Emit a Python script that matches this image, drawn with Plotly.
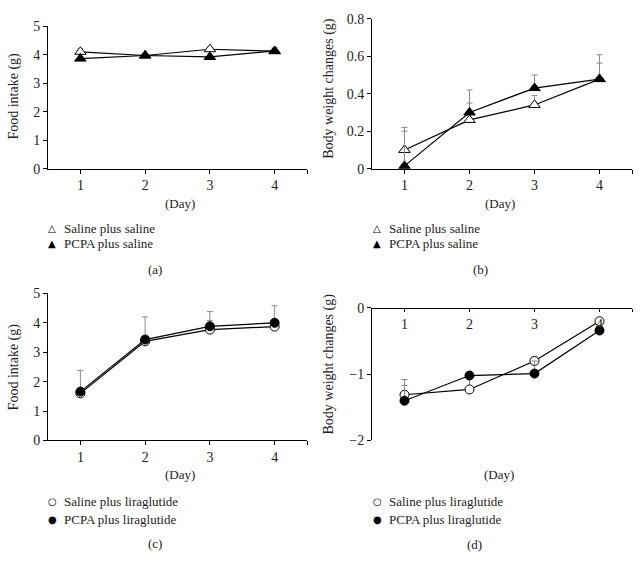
import plotly.graph_objects as go

days = [1, 2, 3, 4]

# Panel (a): food intake (g)
a_saline = [4.11, 3.98, 4.20, 4.13]
a_saline_err = [0.10, 0.06, 0.07, 0.12]
a_pcpa = [3.87, 3.98, 3.93, 4.14]
a_pcpa_err = [0.05, 0.05, 0.06, 0.10]

# Panel (b): body weight changes (g)
b_saline = [0.10, 0.26, 0.34, 0.478]
b_saline_err = [0.12, 0.09, 0.05, 0.085]
b_pcpa = [0.015, 0.30, 0.43, 0.478]
b_pcpa_err = [0.185, 0.12, 0.07, 0.13]

# Panel (c): food intake (g)
c_saline = [1.60, 3.37, 3.77, 3.87]
c_saline_err = [0.10, 0.15, 0.31, 0.20]
c_pcpa = [1.66, 3.43, 3.88, 4.00]
c_pcpa_err = [0.72, 0.77, 0.50, 0.58]

# Panel (d): body weight changes (g)
d_saline = [-1.31, -1.23, -0.80, -0.20]
d_saline_err = [0.23, 0.20, 0.06, 0.05]
d_pcpa = [-1.40, -1.02, -0.99, -0.34]
d_pcpa_err = [0.23, 0.05, 0.19, 0.08]

legend_top = ["Saline plus saline", "PCPA plus saline"]
legend_bottom = ["Saline plus liraglutide", "PCPA plus liraglutide"]
panel_letters = ["(a)", "(b)", "(c)", "(d)"]
y_titles = ["Food intake (g)", "Body weight changes (g)", "Food intake (g)", "Body weight changes (g)"]
x_title = "(Day)"

W, H = 640, 578
FONT = "Liberation Serif"
ERRC = "#8a8a8a"


def px(x):
    return x / W


def py(y):
    return 1 - y / H


fig = go.Figure()


def add_series(xa, ya, vals, errs, symbol, filled, name):
    fig.add_trace(go.Scatter(
        x=days, y=vals, name=name, mode="lines+markers",
        xaxis=xa, yaxis=ya, showlegend=False, hoverinfo="skip",
        line=dict(color="black", width=1.2),
        marker=dict(symbol=symbol, size=9 if symbol == "circle" else 10,
                    color="black" if filled else "white",
                    line=dict(color="black", width=1)),
        error_y=dict(type="data", symmetric=False, array=errs,
                     arrayminus=[0] * len(errs), color=ERRC,
                     thickness=1, width=3),
    ))


add_series("x", "y", a_saline, a_saline_err, "triangle-up", False, legend_top[0])
add_series("x", "y", a_pcpa, a_pcpa_err, "triangle-up", True, legend_top[1])
add_series("x2", "y2", b_saline, b_saline_err, "triangle-up", False, legend_top[0])
add_series("x2", "y2", b_pcpa, b_pcpa_err, "triangle-up", True, legend_top[1])
add_series("x3", "y3", c_saline, c_saline_err, "circle", False, legend_bottom[0])
add_series("x3", "y3", c_pcpa, c_pcpa_err, "circle", True, legend_bottom[1])
add_series("x4", "y4", d_saline, d_saline_err, "circle", False, legend_bottom[0])
add_series("x4", "y4", d_pcpa, d_pcpa_err, "circle", True, legend_bottom[1])

tickfont = dict(family=FONT, size=14, color="#222")

xcommon = dict(range=[0.5, 4.5], tickvals=[1, 2, 3, 4, 4.5],
               ticktext=["1", "2", "3", "4", ""], showline=True,
               linecolor="black", linewidth=1, ticks="outside", ticklen=4,
               tickcolor="black", showgrid=False, zeroline=False,
               tickfont=tickfont, fixedrange=True)
ycommon = dict(showline=True, linecolor="black", linewidth=1, ticks="outside",
               ticklen=4, tickcolor="black", showgrid=False, zeroline=False,
               tickfont=tickfont, fixedrange=True)

dom_left = [px(48), px(307)]
dom_right = [px(372), px(632)]

fig.update_layout(
    width=W, height=H,
    margin=dict(l=0, r=0, t=0, b=0),
    paper_bgcolor="white", plot_bgcolor="white",
    showlegend=False, hovermode=False,
    xaxis=dict(domain=dom_left, anchor="y", **xcommon),
    yaxis=dict(domain=[py(166), py(20)], anchor="x", range=[0, 5],
               tickvals=[0, 1, 2, 3, 4, 5], **ycommon),
    xaxis2=dict(domain=dom_right, anchor="y2", **xcommon),
    yaxis2=dict(domain=[py(166), py(12)], anchor="x2", range=[0, 0.8],
                tickvals=[0, 0.2, 0.4, 0.6, 0.8],
                ticktext=["0", "0.2", "0.4", "0.6", "0.8"], **ycommon),
    xaxis3=dict(domain=dom_left, anchor="y3", **xcommon),
    yaxis3=dict(domain=[py(445), py(294)], anchor="x3", range=[0, 5],
                tickvals=[0, 1, 2, 3, 4, 5], **ycommon),
    xaxis4=dict(domain=dom_right, anchor="free", position=py(309), side="bottom",
                **{**xcommon, "ticklen": 3}),
    yaxis4=dict(domain=[py(445), py(309)], anchor="x4", range=[-2, 0],
                tickvals=[-2, -1, 0], **ycommon),
)

ann = []
textfont = dict(family=FONT, size=13, color="#222")
# y titles
for (x, y), t in zip([(14, 92), (329, 84), (14, 370), (329, 367)], y_titles):
    ann.append(dict(x=px(x), y=py(y), xref="paper", yref="paper", text=t,
                    textangle=-90, showarrow=False, font=dict(family=FONT, size=14, color="#222"),
                    xanchor="center", yanchor="middle"))
# x titles
for (x, y) in [(180, 202), (500, 202), (180, 480), (499, 480)]:
    ann.append(dict(x=px(x), y=py(y), xref="paper", yref="paper", text=x_title,
                    showarrow=False, font=textfont, xanchor="center", yanchor="middle"))
# panel letters
for (x, y), t in zip([(155, 270), (480, 270), (155, 551), (474, 552)], panel_letters):
    ann.append(dict(x=px(x), y=py(y), xref="paper", yref="paper", text=t,
                    showarrow=False, font=textfont, xanchor="center", yanchor="middle"))
# legends
symfont = dict(family="DejaVu Sans", size=10, color="black")
for lx, rows, labels, syms in [
    (52, (227, 243), legend_top, ["\u25b3", "\u25b2"]),
    (377, (227, 243), legend_top, ["\u25b3", "\u25b2"]),
    (52, (508, 526), legend_bottom, ["\u25cb", "\u25cf"]),
    (377, (508, 526), legend_bottom, ["\u25cb", "\u25cf"]),
]:
    for ry, lab, s in zip(rows, labels, syms):
        ann.append(dict(x=px(lx), y=py(ry), xref="paper", yref="paper", text=s,
                        showarrow=False, font=symfont, xanchor="center", yanchor="middle"))
        ann.append(dict(x=px(lx + 10), y=py(ry), xref="paper", yref="paper", text=lab,
                        showarrow=False, font=textfont, xanchor="left", yanchor="middle"))

fig.update_layout(annotations=ann)
fig.write_html("out.html", config={"displayModeBar": False, "staticPlot": True},
               post_script="document.body.style.margin='0px';document.body.style.padding='0px';")
